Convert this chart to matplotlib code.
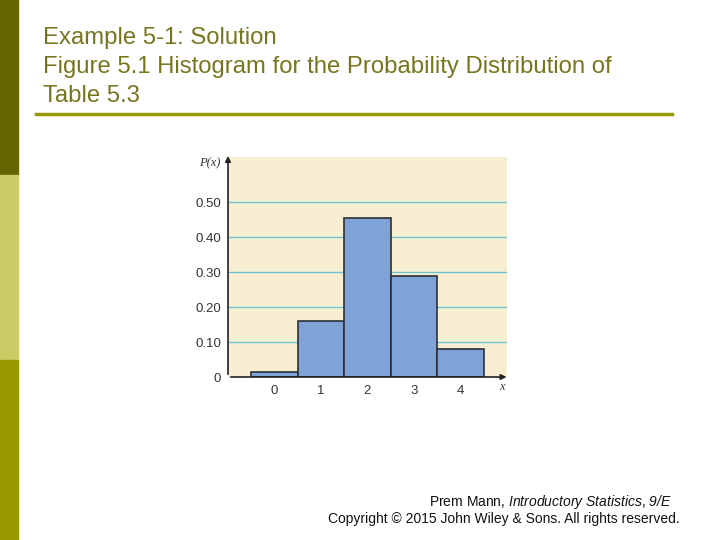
import matplotlib.pyplot as plt

plt.rcParams['font.family'] = ['Liberation Sans', 'DejaVu Sans']
# mathtext only used for the italic book title in the footer
plt.rcParams['mathtext.fontset'] = 'custom'
plt.rcParams['mathtext.rm'] = 'Liberation Sans:italic'
plt.rcParams['mathtext.it'] = 'Liberation Sans:italic'

x_vals = [0, 1, 2, 3, 4]
probs = [0.015, 0.160, 0.455, 0.290, 0.080]
y_ticks = [0, 0.10, 0.20, 0.30, 0.40, 0.50]
y_labels = ['0', '0.10', '0.20', '0.30', '0.40', '0.50']

title_lines = ['Example 5-1: Solution',
               'Figure 5.1 Histogram for the Probability Distribution of',
               'Table 5.3']
footer1 = 'Prem Mann, $\\it{Introductory\\ Statistics}$, $\\it{9/E}$'
footer2 = 'Copyright \u00a9 2015 John Wiley & Sons. All rights reserved.'

W, H = 720, 540
fig = plt.figure(figsize=(7.2, 5.4), dpi=100)


def px(x0, y0, x1, y1):
    # pixel box (top-left origin) -> figure fraction
    return [x0 / W, 1 - y1 / H, (x1 - x0) / W, (y1 - y0) / H]


# left side strip
fig.add_artist(plt.Rectangle((0, 1 - 175 / H), 18 / W, 175 / H, transform=fig.transFigure, color='#666600'))
fig.add_artist(plt.Rectangle((0, 1 - 360 / H), 18 / W, 185 / H, transform=fig.transFigure, color='#CCCC66'))
fig.add_artist(plt.Rectangle((0, 0), 18 / W, 180 / H, transform=fig.transFigure, color='#999900'))

# title
for i, line in enumerate(title_lines):
    fig.text(43 / W, 1 - (38 + i * 29) / H, line, fontsize=17.2, color='#76761E',
             va='center', ha='left')
fig.add_artist(plt.Line2D([36 / W, 672 / W], [1 - 114 / H] * 2, transform=fig.transFigure,
                          color='#999900', lw=2.5))

# chart
ax = fig.add_axes(px(228, 157, 507, 377))
ax.set_facecolor('#F8EFD3')
ax.set_xlim(-1.0, 5.0)
ax.set_ylim(0, 0.629)
for t in y_ticks[1:]:
    ax.axhline(t, color='#6EC3CF', lw=1.0, zorder=1)
ax.bar(x_vals, probs, width=1.0, color='#7FA3D6', edgecolor='#2B2F3A', lw=1.2, zorder=2)

ax.set_xticks(x_vals)
ax.set_yticks(y_ticks)
ax.set_yticklabels(y_labels)
ax.tick_params(length=0, labelsize=9.5, colors='#333333', pad=5)
ax.tick_params(axis='x', pad=6)
for s in ['top', 'right', 'left', 'bottom']:
    ax.spines[s].set_visible(False)

ax.annotate('', xy=(-1.0, 0.64), xytext=(-1.0, 0), xycoords='data',
            arrowprops=dict(arrowstyle='-|>', color='#222222', lw=1.2, mutation_scale=8),
            annotation_clip=False)
ax.annotate('', xy=(5.05, 0), xytext=(-1.0, 0), xycoords='data',
            arrowprops=dict(arrowstyle='-|>', color='#222222', lw=1.2, mutation_scale=8),
            annotation_clip=False)
fig.text(210 / W, 1 - 163 / H, 'P(x)', fontsize=9, color='#333333', ha='center',
         va='center', family='Liberation Serif', style='italic')
fig.text(502 / W, 1 - 387 / H, 'x', fontsize=9, color='#333333', ha='center',
         va='center', family='Liberation Serif', style='italic')

# footer
fig.text(672 / W, 1 - 502 / H, footer1, fontsize=10, color='#111111', ha='right', va='center')
fig.text(680 / W, 1 - 519 / H, footer2, fontsize=10, color='#111111', ha='right', va='center')

fig.savefig('out.png', dpi=100)
